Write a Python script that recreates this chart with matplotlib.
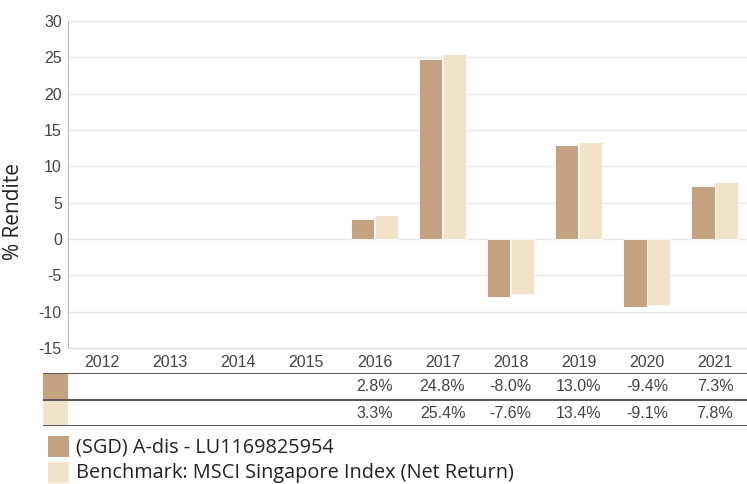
import matplotlib
matplotlib.use("Agg")
import matplotlib.pyplot as plt
import numpy as np

years = ["2012", "2013", "2014", "2015", "2016", "2017", "2018", "2019", "2020", "2021"]
fund = [None, None, None, None, 2.8, 24.8, -8.0, 13.0, -9.4, 7.3]
bench = [None, None, None, None, 3.3, 25.4, -7.6, 13.4, -9.1, 7.8]
fund_name = "(SGD) A-dis - LU1169825954"
bench_name = "Benchmark: MSCI Singapore Index (Net Return)"
yticks = [-15, -10, -5, 0, 5, 10, 15, 20, 25, 30]

c_fund = "#C4A282"
c_bench = "#F0E3C8"
txt = "#444444"

W, H = 747, 484
fig = plt.figure(figsize=(W / 100, H / 100), dpi=100)

def px(x0, y0, x1, y1):
    # pixel box (top-left origin) -> figure fraction
    return [x0 / W, 1 - y1 / H, (x1 - x0) / W, (y1 - y0) / H]

ax = fig.add_axes(px(68, 21, 749, 348))
x = np.arange(len(years))
bw = 0.34
fv = [np.nan if v is None else v for v in fund]
bv = [np.nan if v is None else v for v in bench]
ax.bar(x - bw / 2 - 0.005, fv, bw, color=c_fund, edgecolor="white", linewidth=0.6, zorder=3)
ax.bar(x + bw / 2 + 0.005, bv, bw, color=c_bench, edgecolor="white", linewidth=0.6, zorder=3)
ax.set_xlim(-0.5, len(years) - 0.5)
ax.set_ylim(-15, 30)
ax.set_yticks(yticks)
ax.set_yticklabels([str(t) for t in yticks], fontsize=11.5, color=txt, family="Liberation Sans")
ax.set_xticks(x)
ax.set_xticklabels(years, fontsize=11.5, color=txt, family="Liberation Sans")
ax.tick_params(axis="both", length=0)
ax.tick_params(axis="y", pad=4.5)
ax.tick_params(axis="x", pad=5)
ax.grid(axis="y", color="#e8e8e8", linewidth=1, zorder=0)
for s in ["top", "right"]:
    ax.spines[s].set_visible(False)
ax.spines["left"].set_color("#bbbbbb")
ax.spines["bottom"].set_color("#dddddd")
ax.set_ylabel("% Rendite", fontsize=15, color="#222222", family="Open Sans")
ax.yaxis.set_label_coords(-0.064, 0.416)

# table below the chart
tab = fig.add_axes(px(43, 373, 749, 426))
tab.set_xlim(-0.5 - 25 / 68.1, len(years) - 0.5)
tab.set_ylim(2, 0)
tab.axis("off")
for yy in [0, 1, 2]:
    tab.axhline(yy, color="#555555", linewidth=1.4)
sw = 25 / 68.1
tab.add_patch(plt.Rectangle((-0.5 - sw, 0.03), sw, 0.94, color=c_fund, lw=0))
tab.add_patch(plt.Rectangle((-0.5 - sw, 1.03), sw, 0.94, color=c_bench, lw=0))
for row, vals in enumerate([fund, bench]):
    for i, v in enumerate(vals):
        if v is None:
            continue
        tab.text(i, row + 0.52, f"{v:.1f}%", ha="center", va="center",
                 fontsize=11.5, color=txt, family="Liberation Sans")

# legend
leg = fig.add_axes(px(43, 432, 747, 484))
leg.set_xlim(0, 704)
leg.set_ylim(52, 0)
leg.axis("off")
for k, (name, col) in enumerate([(fund_name, c_fund), (bench_name, c_bench)]):
    y0 = 4 + k * 26
    leg.add_patch(plt.Rectangle((5, y0), 21, 21, color=col, lw=0))
    leg.text(33, y0 + 11, name, ha="left", va="center", fontsize=14.3,
             color="#222222", family="Open Sans")

fig.savefig("out.png", dpi=100)
